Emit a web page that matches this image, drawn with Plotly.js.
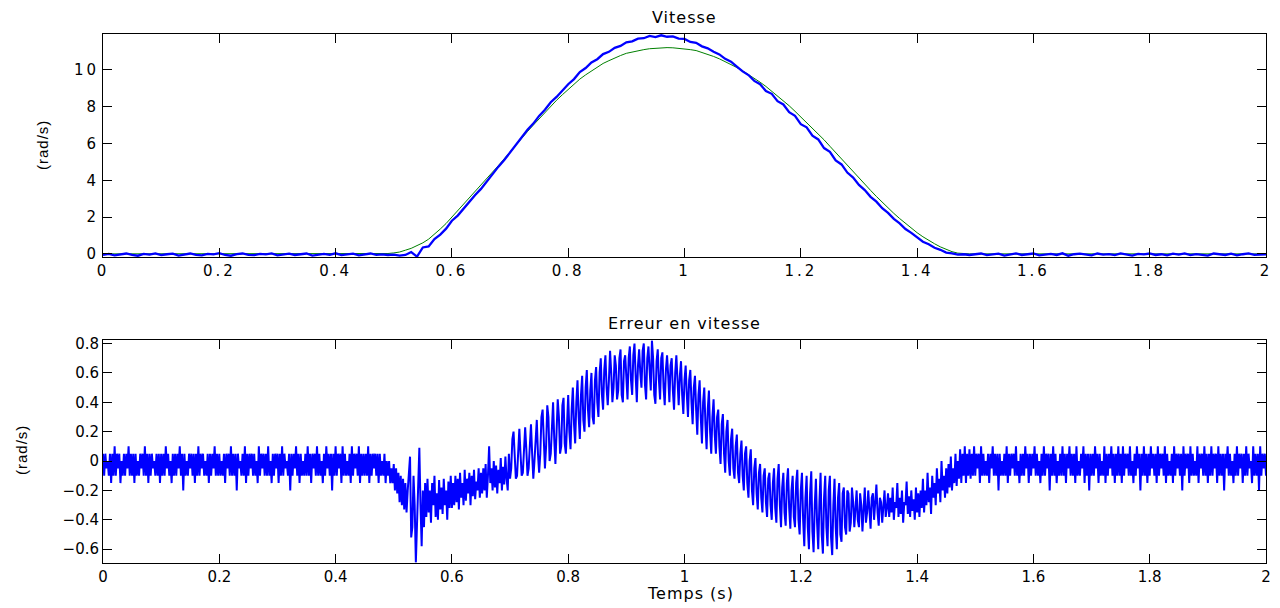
<!DOCTYPE html>
<html>
<head>
<meta charset="utf-8">
<script src="https://cdn.plot.ly/plotly-3.0.1.min.js"></script>
<style>
html,body{margin:0;padding:0;background:#fff;}
#chart{width:1280px;height:608px;}
.xtick text,.ytick text{letter-spacing:3px;}
.annotation-text{letter-spacing:1px;}
</style>
</head>
<body>
<div id="chart"></div>
<script>
// ---- Data ----
// Top plot: time step 0.01 s from 0 to 2 s (201 samples)
const vitesseT0 = 0, vitesseDt = 0.01;
const vitesseConsigne = [
0,0,0,0,0,0,0,0,0,0,
0,0,0,0,0,0,0,0,0,0,
0,0,0,0,0,0,0,0,0,0,
0,0,0,0,0,0,0,0,0,0,
0,0,0,0,0,0,0,0,0,0.02,
0.05,0.1,0.2,0.3,0.45,0.6,0.8,1.05,1.35,1.65,
2.0,2.3,2.65,3.0,3.35,3.7,4.05,4.42,4.8,5.17,
5.55,5.92,6.3,6.65,7.0,7.35,7.7,8.03,8.35,8.65,
8.95,9.23,9.5,9.73,9.95,10.15,10.35,10.5,10.65,10.78,
10.9,10.98,11.05,11.1,11.15,11.18,11.2,11.21,11.2,11.18,
11.15,11.1,11.05,10.95,10.85,10.73,10.6,10.45,10.3,10.13,
9.95,9.75,9.55,9.33,9.1,8.85,8.6,8.33,8.05,7.75,
7.45,7.15,6.85,6.53,6.2,5.85,5.5,5.15,4.8,4.45,
4.1,3.77,3.45,3.12,2.8,2.5,2.2,1.92,1.65,1.4,
1.15,0.93,0.72,0.55,0.38,0.24,0.12,0.04,0,0,
0,0,0,0,0,0,0,0,0,0,
0,0,0,0,0,0,0,0,0,0,
0,0,0,0,0,0,0,0,0,0,
0,0,0,0,0,0,0,0,0,0,
0,0,0,0,0,0,0,0,0,0,
0];
const vitesseMesuree = [
-0.05,0.0,-0.08,-0.02,0.02,-0.06,-0.1,0.0,-0.04,0.03,
-0.07,-0.02,0.01,-0.09,-0.03,0.02,-0.05,-0.08,0.0,-0.03,
0.04,-0.06,-0.1,-0.01,0.02,-0.05,-0.07,0.0,-0.03,0.03,
-0.08,-0.04,0.01,-0.06,-0.02,0.02,-0.09,-0.03,0.0,-0.05,
0.03,-0.07,-0.02,0.01,-0.08,-0.04,0.02,-0.05,-0.03,-0.06,
-0.04,-0.1,-0.06,0.1,-0.15,0.35,0.4,0.8,1.05,1.37,
1.8,2.08,2.47,2.8,3.2,3.53,3.94,4.3,4.74,5.1,
5.52,5.96,6.33,6.75,7.08,7.5,7.83,8.24,8.53,8.9,
9.22,9.5,9.88,10.1,10.4,10.58,10.86,10.98,11.2,11.3,
11.5,11.55,11.7,11.72,11.85,11.78,11.88,11.8,11.82,11.7,
11.68,11.52,11.47,11.28,11.17,10.98,10.84,10.6,10.45,10.18,
9.92,9.72,9.4,9.22,8.85,8.7,8.3,8.12,7.7,7.5,
7.05,6.88,6.42,6.22,5.75,5.55,5.08,4.86,4.42,4.15,
3.75,3.47,3.1,2.84,2.48,2.23,1.9,1.66,1.35,1.14,
0.9,0.66,0.52,0.33,0.22,0.07,0.03,-0.04,-0.02,-0.06,
-0.02,0.02,-0.07,-0.03,0.01,-0.09,-0.04,0.03,-0.06,-0.01,
0.02,-0.08,-0.03,0.0,-0.06,0.03,-0.1,-0.02,0.01,-0.05,
-0.08,0.02,-0.04,-0.01,-0.07,0.03,-0.05,-0.09,0.0,-0.03,
0.02,-0.06,-0.02,-0.08,0.01,-0.04,0.03,-0.07,-0.01,-0.05,
-0.09,0.02,-0.03,-0.06,0.01,-0.08,-0.02,0.03,-0.05,-0.04,
-0.02];

// Bottom plot: speed error, time step 0.002 s from 0 to 2 s (1001 samples)
const erreurT0 = 0, erreurDt = 0.002;
const erreurVitesse = [
0.05,-0.1,0.05,-0.05,0.0,-0.1,0.05,-0.15,0.05,-0.1,0.1,-0.1,0.05,-0.05,0.05,-0.15,0.0,-0.1,0.05,-0.1,0.05,-0.05,0.1,-0.1,0.05,
-0.1,0.05,-0.15,0.05,-0.1,0.0,-0.1,0.05,-0.05,0.05,-0.1,0.1,-0.1,0.05,-0.15,0.05,-0.1,0.05,-0.05,0.0,-0.1,0.05,-0.1,0.05,-0.15,
0.05,-0.1,0.05,-0.1,0.1,-0.05,0.05,-0.1,0.0,-0.15,0.05,-0.1,0.05,-0.1,0.05,-0.05,0.1,-0.1,0.05,-0.2,0.05,-0.1,0.0,-0.1,0.05,
-0.05,0.05,-0.1,0.05,-0.15,0.05,-0.1,0.1,-0.1,0.05,-0.05,0.05,-0.1,0.0,-0.1,0.05,-0.15,0.05,-0.1,0.05,-0.05,0.1,-0.1,0.05,-0.1,
0.05,-0.1,0.0,-0.1,0.05,-0.15,0.05,-0.05,0.05,-0.1,0.1,-0.1,0.05,-0.1,0.05,-0.2,0.05,-0.05,0.0,-0.1,0.05,-0.1,0.1,-0.15,0.05,
-0.1,0.05,-0.05,0.05,-0.1,0.05,-0.1,0.0,-0.15,0.1,-0.1,0.05,-0.05,0.05,-0.1,0.05,-0.1,0.1,-0.1,0.0,-0.15,0.05,-0.1,0.05,-0.05,
0.05,-0.15,0.05,-0.1,0.1,-0.1,0.05,-0.05,0.0,-0.1,0.05,-0.2,0.05,-0.1,0.05,-0.05,0.1,-0.1,0.05,-0.15,0.05,-0.1,0.0,-0.1,0.05,
-0.1,0.1,-0.1,0.05,-0.15,0.05,-0.05,0.05,-0.1,0.1,-0.1,0.05,-0.1,0.0,-0.15,0.05,-0.1,0.1,-0.05,0.05,-0.1,0.05,-0.2,0.05,-0.1,
0.1,-0.1,0.05,-0.05,0.05,-0.15,0.1,-0.1,0.05,-0.1,0.0,-0.1,0.05,-0.15,0.1,-0.1,0.05,-0.05,0.05,-0.1,0.1,-0.15,0.05,-0.1,0.05,
-0.1,0.05,-0.1,0.1,-0.15,0.05,-0.1,0.05,-0.05,0.05,-0.1,0.05,-0.15,0.05,-0.1,0.0,-0.1,0.05,-0.15,0.0,-0.1,0.0,-0.15,-0.05,-0.15,
-0.02,-0.2,-0.05,-0.22,-0.08,-0.28,-0.1,-0.3,-0.12,-0.33,-0.15,-0.35,-0.2,-0.1,0.03,-0.52,-0.45,-0.1,-0.3,-0.69,-0.4,-0.05,0.09,-0.3,-0.58,
-0.2,-0.45,-0.15,-0.38,-0.12,-0.35,-0.2,-0.42,-0.15,-0.3,-0.1,-0.38,-0.22,-0.4,-0.13,-0.33,-0.18,-0.36,-0.12,-0.3,-0.2,-0.4,-0.14,-0.32,-0.1,
-0.32,-0.15,-0.3,-0.1,-0.28,-0.12,-0.33,-0.08,-0.25,-0.15,-0.3,-0.06,-0.27,-0.12,-0.22,-0.08,-0.3,-0.1,-0.24,-0.06,-0.26,-0.14,-0.2,-0.05,-0.25,
-0.08,-0.22,-0.05,-0.2,-0.02,-0.25,-0.1,0.1,-0.15,-0.05,-0.2,0.0,-0.18,-0.03,-0.22,-0.06,-0.15,0.02,-0.2,-0.04,-0.16,0.03,-0.12,-0.2,0.05,
-0.12,-0.05,0.15,0.2,0.0,-0.12,-0.1,0.1,0.22,0.05,-0.1,-0.08,0.12,0.23,0.08,-0.1,-0.05,0.15,0.25,0.05,-0.12,0.0,0.2,0.28,0.05,
-0.08,0.05,0.3,0.35,0.1,-0.05,0.1,0.38,0.3,0.0,0.05,0.3,0.4,0.15,-0.02,0.2,0.42,0.3,0.05,0.1,0.38,0.43,0.12,0.05,0.3,
0.45,0.2,0.08,0.35,0.5,0.25,0.12,0.4,0.55,0.3,0.15,0.45,0.58,0.28,0.2,0.5,0.62,0.35,0.23,0.48,0.6,0.3,0.25,0.55,0.64,
0.4,0.3,0.6,0.7,0.45,0.35,0.62,0.72,0.5,0.38,0.55,0.75,0.6,0.4,0.5,0.72,0.65,0.42,0.48,0.7,0.76,0.45,0.4,0.68,0.72,
0.5,0.42,0.7,0.78,0.55,0.45,0.72,0.8,0.58,0.4,0.65,0.76,0.6,0.5,0.75,0.8,0.52,0.42,0.7,0.78,0.62,0.48,0.82,0.7,0.45,
0.39,0.68,0.76,0.55,0.42,0.7,0.74,0.5,0.38,0.62,0.72,0.58,0.4,0.65,0.7,0.48,0.35,0.6,0.72,0.55,0.38,0.58,0.68,0.45,0.32,
0.55,0.65,0.45,0.3,0.55,0.62,0.4,0.25,0.5,0.58,0.35,0.18,0.45,0.55,0.3,0.12,0.4,0.5,0.25,0.08,0.35,0.48,0.2,0.05,0.3,
0.42,0.18,0.05,0.3,0.35,0.1,-0.02,0.25,0.32,0.05,-0.08,0.2,0.28,0.0,-0.1,0.15,0.22,-0.05,-0.12,0.1,0.18,-0.08,-0.15,0.05,0.14,
-0.1,-0.2,0.05,0.1,-0.15,-0.25,0.0,0.08,-0.2,-0.3,-0.05,0.02,-0.22,-0.33,-0.08,-0.02,-0.25,-0.35,-0.1,-0.05,-0.28,-0.38,-0.12,-0.08,-0.3,
-0.4,-0.15,-0.05,-0.32,-0.42,-0.12,-0.02,-0.3,-0.45,-0.18,-0.08,-0.35,-0.44,-0.15,-0.05,-0.32,-0.46,-0.2,-0.1,-0.38,-0.45,-0.15,-0.06,-0.4,-0.5,
-0.2,-0.08,-0.4,-0.58,-0.25,-0.1,-0.45,-0.6,-0.22,-0.07,-0.48,-0.62,-0.3,-0.12,-0.42,-0.6,-0.28,-0.08,-0.5,-0.63,-0.25,-0.1,-0.45,-0.58,-0.2,
-0.1,-0.52,-0.64,-0.3,-0.12,-0.45,-0.6,-0.25,-0.15,-0.5,-0.55,-0.22,-0.18,-0.45,-0.5,-0.2,-0.22,-0.48,-0.42,-0.18,-0.28,-0.45,-0.35,-0.2,-0.4,
-0.45,-0.22,-0.3,-0.48,-0.28,-0.18,-0.42,-0.35,-0.2,-0.38,-0.46,-0.25,-0.22,-0.4,-0.3,-0.16,-0.35,-0.44,-0.25,-0.28,-0.42,-0.3,-0.2,-0.38,-0.32,
-0.22,-0.38,-0.25,-0.35,-0.18,-0.4,-0.28,-0.32,-0.15,-0.38,-0.25,-0.36,-0.2,-0.42,-0.28,-0.3,-0.14,-0.36,-0.24,-0.38,-0.2,-0.34,-0.26,-0.4,-0.18,
-0.35,-0.22,-0.38,-0.2,-0.32,-0.12,-0.35,-0.2,-0.3,-0.08,-0.28,-0.18,-0.36,-0.1,-0.25,-0.15,-0.3,-0.05,-0.22,-0.12,-0.28,0.0,-0.2,-0.1,-0.25,
-0.05,-0.22,-0.02,-0.18,0.03,-0.2,-0.05,-0.15,0.05,-0.17,0.0,-0.12,0.08,-0.15,0.05,-0.1,0.1,-0.15,0.05,-0.1,0.08,-0.12,0.05,-0.1,0.1,
-0.1,0.05,-0.05,0.05,-0.15,0.1,-0.1,0.05,-0.1,0.0,-0.1,0.05,-0.15,0.05,-0.05,0.1,-0.1,0.05,-0.1,0.05,-0.2,0.05,-0.1,0.0,-0.1,
0.05,-0.1,0.1,-0.15,0.05,-0.1,0.05,-0.05,0.05,-0.1,0.1,-0.1,0.0,-0.15,0.05,-0.1,0.05,-0.1,0.1,-0.05,0.05,-0.15,0.05,-0.1,0.05,
-0.05,0.1,-0.1,0.05,-0.1,0.0,-0.15,0.05,-0.1,0.1,-0.1,0.05,-0.05,0.05,-0.2,0.05,-0.1,0.1,-0.1,0.05,-0.15,0.0,-0.1,0.05,-0.1,
0.1,-0.1,0.05,-0.15,0.05,-0.05,0.1,-0.1,0.05,-0.1,0.05,-0.15,0.1,-0.1,0.0,-0.1,0.05,-0.05,0.1,-0.15,0.05,-0.1,0.05,-0.2,0.05,
-0.1,0.05,-0.1,0.1,-0.05,0.05,-0.15,0.05,-0.1,0.0,-0.1,0.1,-0.15,0.05,-0.1,0.05,-0.05,0.1,-0.1,0.05,-0.15,0.05,-0.1,0.1,-0.1,
0.05,-0.15,0.1,-0.1,0.05,-0.05,0.05,-0.1,0.1,-0.1,0.0,-0.15,0.05,-0.1,0.1,-0.05,0.05,-0.2,0.05,-0.1,0.1,-0.1,0.05,-0.15,0.05,
-0.1,0.1,-0.05,0.05,-0.1,0.05,-0.15,0.1,-0.1,0.05,-0.05,0.05,-0.1,0.1,-0.15,0.05,-0.1,0.0,-0.1,0.05,-0.15,0.1,-0.1,0.05,-0.05,
0.05,-0.1,0.05,-0.2,0.1,-0.1,0.05,-0.05,0.05,-0.15,0.1,-0.1,0.05,-0.1,0.0,-0.1,0.1,-0.15,0.05,-0.05,0.05,-0.1,0.1,-0.1,0.05,
-0.15,0.05,-0.1,0.1,-0.1,0.05,-0.05,0.05,-0.15,0.1,-0.1,0.05,-0.1,0.05,-0.2,0.05,-0.05,0.1,-0.1,0.05,-0.1,0.0,-0.15,0.05,-0.1,
0.1,-0.1,0.05,-0.05,0.05,-0.15,0.05,-0.1,0.1,-0.1,0.05,-0.05,0.0,-0.15,0.1,-0.1,0.05,-0.1,0.05,-0.2,0.1,-0.1,0.05,-0.05,0.05,
-0.1];

const xTickVals = [0,0.2,0.4,0.6,0.8,1,1.2,1.4,1.6,1.8,2];
const xTickText = ["0","0.2","0.4","0.6","0.8","1","1.2","1.4","1.6","1.8","2"];
const yTopTickVals = [0,2,4,6,8,10];
const yBotTickVals = [-0.6,-0.4,-0.2,0,0.2,0.4,0.6,0.8];
const yBotTickText = ["\u22120.6","\u22120.4","\u22120.2","0","0.2","0.4","0.6","0.8"];

const titles = {top:"Vitesse", bottom:"Erreur en vitesse", x:"Temps (s)", y:"(rad/s)"};

// ---- Plot ----
const W = 1280, H = 608;
const px = v => v / W, py = v => 1 - v / H;

const tickFont = {family:"DejaVu Sans, Liberation Sans, sans-serif", size:15, color:"#000"};
const axisCommon = {
  showline:true, mirror:"ticks", linecolor:"#000", linewidth:1,
  ticks:"inside", ticklen:9, tickwidth:1, tickcolor:"#000",
  showgrid:false, zeroline:false, tickfont:tickFont, fixedrange:true
};

const traces = [
  {x0:vitesseT0, dx:vitesseDt, y:vitesseConsigne, type:"scatter", mode:"lines",
   line:{color:"#008000", width:1}, xaxis:"x", yaxis:"y", hoverinfo:"skip"},
  {x0:vitesseT0, dx:vitesseDt, y:vitesseMesuree, type:"scatter", mode:"lines",
   line:{color:"#0000ff", width:2.3}, xaxis:"x", yaxis:"y", hoverinfo:"skip"},
  {x0:erreurT0, dx:erreurDt, y:erreurVitesse, type:"scatter", mode:"lines",
   line:{color:"#0000ff", width:2}, xaxis:"x2", yaxis:"y2", hoverinfo:"skip"}
];

const layout = {
  width:W, height:H, margin:{l:0,r:0,t:0,b:0},
  paper_bgcolor:"#fff", plot_bgcolor:"#fff", showlegend:false,
  font:{family:"Liberation Sans, sans-serif", color:"#000"},
  xaxis:Object.assign({}, axisCommon, {domain:[px(103),px(1266)], range:[0,2],
    tickvals:xTickVals, ticktext:xTickText, anchor:"y"}),
  yaxis:Object.assign({}, axisCommon, {domain:[py(257),py(34)], range:[-0.17,11.95],
    tickvals:yTopTickVals, anchor:"x"}),
  xaxis2:Object.assign({}, axisCommon, {domain:[px(103),px(1266)], range:[0,2],
    tickvals:xTickVals, ticktext:xTickText, anchor:"y2"}),
  yaxis2:Object.assign({}, axisCommon, {domain:[py(562.7),py(340.3)], range:[-0.692,0.822],
    tickvals:yBotTickVals, ticktext:yBotTickText, anchor:"x2"}),
  annotations:[
    {text:titles.top, xref:"paper", yref:"paper", x:px(684.5), y:py(17), showarrow:false,
     xanchor:"center", yanchor:"middle", font:{size:16, family:"DejaVu Sans, sans-serif"}},
    {text:titles.bottom, xref:"paper", yref:"paper", x:px(684.5), y:py(323), showarrow:false,
     xanchor:"center", yanchor:"middle", font:{size:16, family:"DejaVu Sans, sans-serif"}},
    {text:titles.x, xref:"paper", yref:"paper", x:px(690), y:py(593), showarrow:false,
     xanchor:"center", yanchor:"middle", font:{size:16, family:"DejaVu Sans, sans-serif"}},
    {text:titles.y, xref:"paper", yref:"paper", x:px(42), y:py(145), showarrow:false,
     textangle:-90, xanchor:"center", yanchor:"middle", font:{size:15, family:"Liberation Sans, sans-serif"}},
    {text:titles.y, xref:"paper", yref:"paper", x:px(21), y:py(450), showarrow:false,
     textangle:-90, xanchor:"center", yanchor:"middle", font:{size:15, family:"Liberation Sans, sans-serif"}}
  ]
};

Plotly.newPlot("chart", traces, layout, {staticPlot:true, displayModeBar:false});
</script>
</body>
</html>
